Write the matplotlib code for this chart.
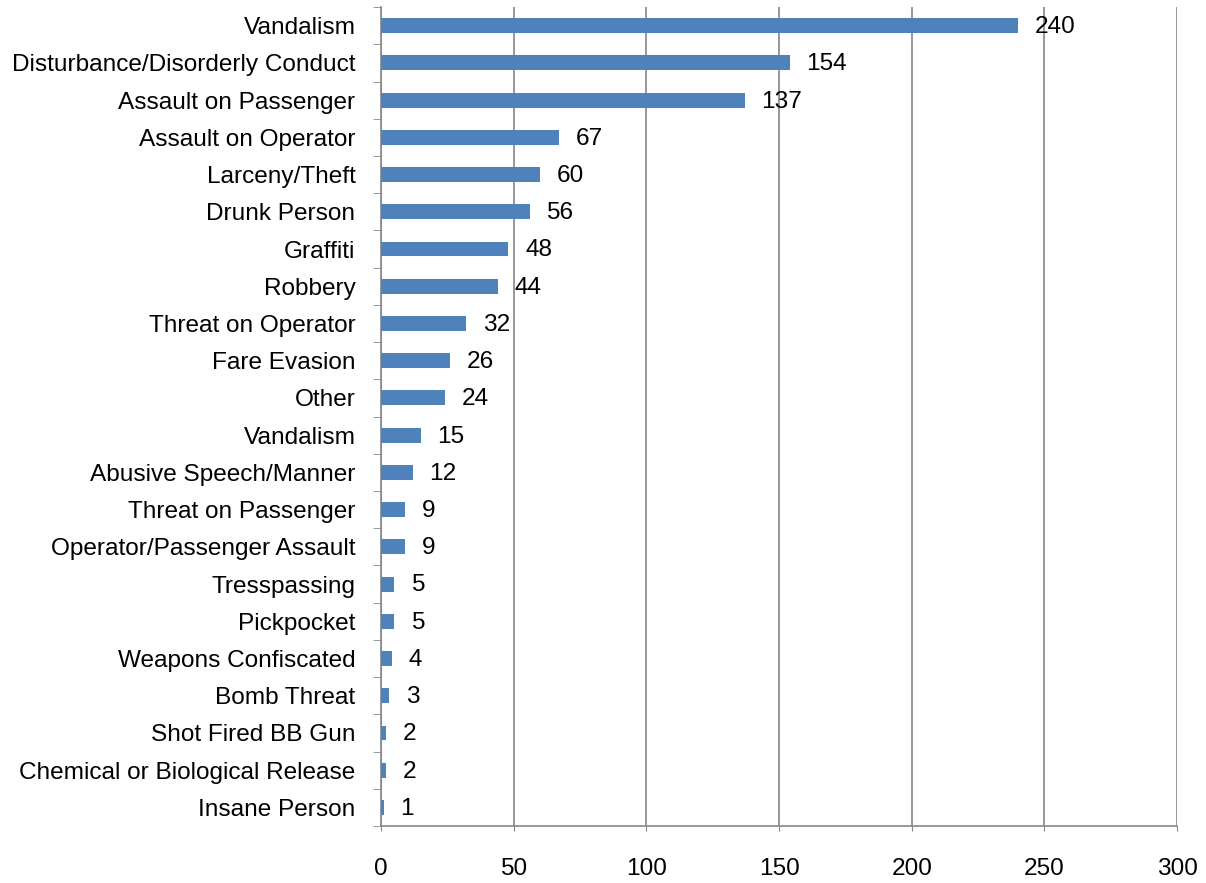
import matplotlib.pyplot as plt
import numpy as np

categories = ["Vandalism", "Disturbance/Disorderly Conduct", "Assault on Passenger",
              "Assault on Operator", "Larceny/Theft", "Drunk Person", "Graffiti",
              "Robbery", "Threat on Operator", "Fare Evasion", "Other", "Vandalism",
              "Abusive Speech/Manner", "Threat on Passenger", "Operator/Passenger Assault",
              "Tresspassing", "Pickpocket", "Weapons Confiscated", "Bomb Threat",
              "Shot Fired BB Gun", "Chemical or Biological Release", "Insane Person"]
counts = [240, 154, 137, 67, 60, 56, 48, 44, 32, 26, 24, 15, 12, 9, 9, 5, 5, 4, 3, 2, 2, 1]
xticks = [0, 50, 100, 150, 200, 250, 300]

plt.rcParams['font.family'] = ['Liberation Sans', 'DejaVu Sans']
grey = '#868686'
fs = 17.6

fig = plt.figure(figsize=(12.06, 8.83), dpi=100)
ax = fig.add_axes([0.316, 0.0645, 0.66, 0.9275])

# plot top-to-bottom
y = np.arange(len(categories))[::-1]
ax.barh(y, counts, height=0.4, color='#4F81BD', zorder=3)

for yi, v in zip(y, counts):
    ax.annotate(str(v), (v, yi), xytext=(12, -1), textcoords='offset points',
                va='center', ha='left', fontsize=fs, zorder=4)

ax.set_xlim(0, 300)
ax.set_ylim(-0.5, len(categories) - 0.5)
ax.set_xticks(xticks)
ax.set_xticklabels([str(t) for t in xticks], fontsize=fs)
ax.set_yticks(y)
ax.set_yticklabels(categories, fontsize=fs)

# category boundary ticks on the y axis
ax.set_yticks(np.arange(-0.5, len(categories)), minor=True)
ax.tick_params(axis='y', which='major', length=0, pad=18.5)
ax.tick_params(axis='y', which='minor', length=5.8, color=grey, direction='out')
ax.tick_params(axis='x', which='major', length=3.6, color=grey, direction='out', pad=19.5)

ax.grid(axis='x', color=grey, linewidth=1.2, zorder=0)
for s in ['top', 'right']:
    ax.spines[s].set_visible(False)
for s in ['left', 'bottom']:
    ax.spines[s].set_color(grey)
    ax.spines[s].set_linewidth(1.2)

fig.savefig('out.png', dpi=100)
